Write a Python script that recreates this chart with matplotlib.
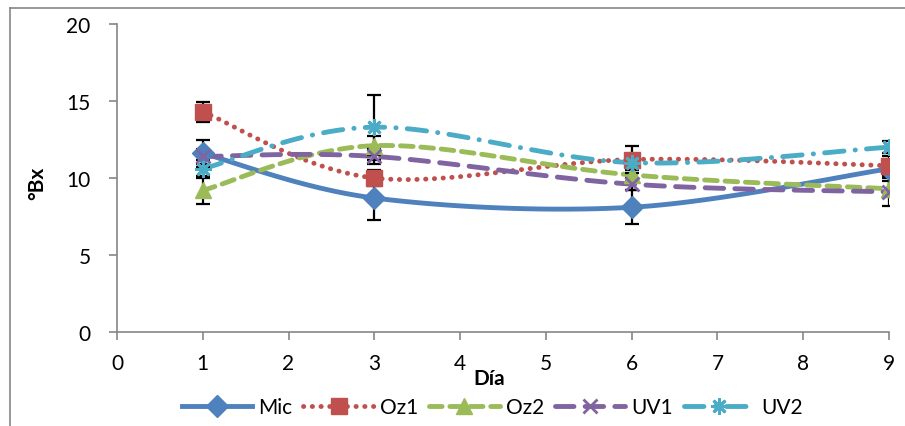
import numpy as np
import matplotlib
matplotlib.use("Agg")
import matplotlib.pyplot as plt
from matplotlib.lines import Line2D

plt.rcParams['font.family'] = ['Lato', 'DejaVu Sans']

days = [1, 3, 6, 9]
series_names = ["Mic", "Oz1", "Oz2", "UV1", "UV2"]
mic = [11.6, 8.7, 8.1, 10.6]
oz1 = [14.3, 10.0, 11.2, 10.8]
oz2 = [9.2, 12.1, 10.2, 9.3]
uv1 = [11.4, 11.4, 9.6, 9.1]
uv2 = [10.6, 13.3, 11.0, 12.0]
mic_err = [0.9, 1.4, 1.1, 0.5]
oz1_err = [0.65, 0.5, 0.9, 0.6]
oz2_err = [0.9, 0.6, 0.4, 0.5]
uv1_err = [0.5, 0.5, 0.4, 0.9]
uv2_err = [0.6, 2.1, 0.5, 0.4]
x_ticks = list(range(0, 10))
y_ticks = [0, 5, 10, 15, 20]

colors = ["#4F81BD", "#C0504D", "#9BBB59", "#8064A2", "#4BACC6"]
markers = ["D", "s", "^", "x", (8, 2, 0)]
msizes = [11, 12, 11, 10, 12]
linestyles = ["-", (0, (0.05, 1.75)), (0, (2.6, 1.6)), (0, (3.8, 2.3)), (0, (4.0, 2.3, 0.05, 2.3))]
LW = 3.5


def smooth(xs, ys, n=40):
    xs = np.asarray(xs, float)
    ys = np.asarray(ys, float)
    P = np.column_stack([xs, ys])
    out = []
    m = len(P)
    for i in range(m - 1):
        p0 = P[max(i - 1, 0)]
        p1 = P[i]
        p2 = P[i + 1]
        p3 = P[min(i + 2, m - 1)]
        b1 = p1 + (p2 - p0) / 6.0
        b2 = p2 - (p3 - p1) / 6.0
        t = np.linspace(0, 1, n)[:, None]
        seg = ((1 - t) ** 3) * p1 + 3 * ((1 - t) ** 2) * t * b1 + 3 * (1 - t) * t ** 2 * b2 + t ** 3 * p2
        if i > 0:
            seg = seg[1:]
        out.append(seg)
    c = np.vstack(out)
    return c[:, 0], c[:, 1]


fig = plt.figure(figsize=(9.05, 4.27), dpi=100)
ax = fig.add_axes([117 / 905, (427 - 333) / 427, (889 - 117) / 905, (333 - 25) / 427])

all_vals = [mic, oz1, oz2, uv1, uv2]
all_errs = [mic_err, oz1_err, oz2_err, uv1_err, uv2_err]

handles = []
for name, vals, errs, col, mk, ms, ls in zip(series_names, all_vals, all_errs, colors, markers, msizes, linestyles):
    sx, sy = smooth(days, vals)
    ax.plot(sx, sy, color=col, lw=LW, linestyle=ls, dash_capstyle='round', solid_capstyle='round', zorder=2)
    ax.errorbar(days, vals, yerr=errs, fmt='none', ecolor='black', elinewidth=1.6, capsize=5, capthick=1.6, zorder=3)
    mew = 2.0 if mk in ("x", (8, 2, 0)) else 1
    ax.plot(days, vals, linestyle='none', marker=mk, markersize=ms, color=col, markeredgecolor=col, markeredgewidth=mew, zorder=4)
    handles.append(Line2D([0], [0], color=col, lw=LW, linestyle=ls, dash_capstyle='round', marker=mk,
                          markersize=ms, markeredgecolor=col, markeredgewidth=mew))

ax.set_xlim(0, 9)
ax.set_ylim(0, 20)
ax.set_xticks(x_ticks)
ax.set_yticks(y_ticks)
for s in ["top", "right"]:
    ax.spines[s].set_visible(False)
for s in ["left", "bottom"]:
    ax.spines[s].set_color("#868686")
    ax.spines[s].set_linewidth(1.2)
ax.tick_params(axis='both', direction='out', length=6, width=1.2, color="#868686", labelsize=15, labelcolor='black')
ax.tick_params(axis='x', pad=9)
ax.tick_params(axis='y', pad=13)

fig.text(37 / 905, 1 - 183 / 427, "°Bx", rotation=90, fontsize=15, fontweight='bold', ha='center', va='center')
fig.text(489 / 905, 1 - 379 / 427, "Día", fontsize=15, fontweight='bold', ha='center', va='center')

leg = fig.legend(handles, series_names, loc='center', bbox_to_anchor=(492 / 905, 1 - 408 / 427), ncol=5,
                 frameon=False, fontsize=15, handlelength=3.4, columnspacing=0.5, handletextpad=0.3)

# outer chart border
fig.add_artist(Line2D([10 / 905, 10 / 905], [0, 1 - 9 / 427], transform=fig.transFigure, color="#868686", lw=1.2))
fig.add_artist(Line2D([10 / 905, 1], [1 - 9 / 427, 1 - 9 / 427], transform=fig.transFigure, color="#868686", lw=1.2))

fig.savefig("out.png", dpi=100)
